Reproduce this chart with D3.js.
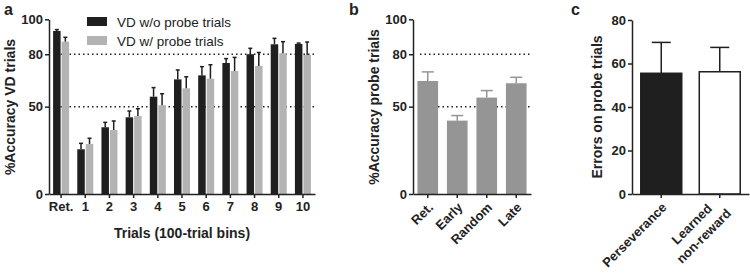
<!DOCTYPE html>
<html>
<head>
<meta charset="utf-8">
<script src="https://cdn.jsdelivr.net/npm/d3@7"></script>
<style>
  body { margin: 0; background: #fff; }
  text { font-family: "Liberation Sans", Arial, sans-serif; fill: #222; }
</style>
</head>
<body>
<div id="chart"></div>
<script>
// panel a - accuracy on VD trials per 100-trial bin
const binLabels = ["Ret.", "1", "2", "3", "4", "5", "6", "7", "8", "9", "10"];
const vdWithout = [93.3, 25.6, 38.2, 43.9, 55.7, 65.6, 67.9, 75.0, 80.0, 85.7, 85.9];
const vdWithoutErr = [0.8, 3.4, 2.8, 3.6, 5.2, 5.4, 5.0, 2.5, 3.4, 3.4, 0.5];
const vdWith = [87.2, 28.6, 36.6, 44.6, 50.8, 60.5, 66.0, 70.4, 73.3, 80.5, 79.6];
const vdWithErr = [2.5, 3.3, 5.2, 4.2, 6.6, 6.6, 8.0, 7.8, 7.7, 6.7, 7.4];
const legendLabels = ["VD w/o probe trials", "VD w/ probe trials"];

// panel b - accuracy on probe trials
const probeCats = ["Ret.", "Early", "Random", "Late"];
const probeAcc = [64.7, 42.0, 55.2, 63.4];
const probeErr = [5.2, 2.9, 4.0, 3.4];

// panel c - errors on probe trials
const errorCats = ["Perseverance", "Learned\nnon-reward"];
const errorVals = [55.5, 56.2];
const errorErr = [14.2, 11.2];

const accTicks = [0, 50, 80, 100];
const refLines = [50, 80];
const errTicks = [0, 20, 40, 60, 80];

const width = 750, height = 276;
const black = "#1f1f1f", lightGray = "#b3b3b3", midGray = "#959595";

const svg = d3.select("#chart")
  .append("svg")
  .attr("width", width)
  .attr("height", height);

const yTop = 19.3, yBottom = 194;

// style an axis group like the prism output
function styleAxis(g) {
  g.select(".domain").attr("stroke", "#222").attr("stroke-width", 1.5);
  g.selectAll(".tick line").attr("stroke", "#222").attr("stroke-width", 1.5);
  g.selectAll(".tick text")
    .attr("font-family", "Liberation Sans, Arial, sans-serif")
    .attr("font-size", 13)
    .attr("font-weight", "bold")
    .attr("fill", "#222");
}

function yTitle(x, y, label) {
  svg.append("text")
    .attr("transform", `translate(${x},${y}) rotate(-90)`)
    .attr("text-anchor", "middle")
    .attr("font-size", 14)
    .attr("font-weight", "bold")
    .text(label);
}

function panelLetter(x, y, letter) {
  svg.append("text")
    .attr("x", x).attr("y", y)
    .attr("font-size", 16)
    .attr("font-weight", "bold")
    .text(letter);
}

function dotted(x0, x1, yy) {
  svg.append("line")
    .attr("x1", x0).attr("x2", x1)
    .attr("y1", yy).attr("y2", yy)
    .attr("stroke", "#222")
    .attr("stroke-width", 1.5)
    .attr("stroke-dasharray", "1.5,3");
}

function errBar(cx, top, ext, cap, color) {
  const g = svg.append("g").attr("stroke", color).attr("stroke-width", 1.5);
  g.append("line").attr("x1", cx).attr("x2", cx).attr("y1", top).attr("y2", ext);
  g.append("line").attr("x1", cx - cap / 2).attr("x2", cx + cap / 2).attr("y1", ext).attr("y2", ext);
}

// rotated (-45deg) multi-line category labels, lines centred on each other
function rotatedLabels(x, labels, yPos) {
  labels.forEach((lab, i) => {
    const lines = lab.split("\n");
    const g = svg.append("g")
      .attr("transform", `translate(${x(lab) + x.bandwidth() / 2 + 3},${yPos}) rotate(-45)`);
    const texts = lines.map((ln, j) => g.append("text")
      .attr("font-size", 13)
      .attr("font-weight", "bold")
      .attr("dy", "0.35em")
      .attr("y", (j - (lines.length - 1) / 2) * 17)
      .text(ln));
    const w = d3.max(texts, t => t.node().getComputedTextLength());
    texts.forEach(t => t.attr("text-anchor", "middle").attr("x", -w / 2));
  });
}

/* ---------- panel a ---------- */
{
  const x = d3.scaleBand().domain(binLabels).range([49, 315]);
  const y = d3.scaleLinear().domain([0, 100]).range([yBottom, yTop]);
  const bw = 7.5;

  refLines.forEach(v => dotted(56, 315, y(v)));

  binLabels.forEach((b, i) => {
    const c = x(b) + x.bandwidth() / 2;
    svg.append("rect")
      .attr("x", c - bw - 0.5).attr("width", bw)
      .attr("y", y(vdWithout[i])).attr("height", y(0) - y(vdWithout[i]))
      .attr("fill", black);
    svg.append("rect")
      .attr("x", c + 0.5).attr("width", bw)
      .attr("y", y(vdWith[i])).attr("height", y(0) - y(vdWith[i]))
      .attr("fill", lightGray);
    errBar(c - bw / 2 - 0.5, y(vdWithout[i]), y(vdWithout[i] + vdWithoutErr[i]), 4, black);
    errBar(c + bw / 2 + 0.5, y(vdWith[i]), y(vdWith[i] + vdWithErr[i]), 4, black);
  });

  svg.append("g")
    .attr("transform", `translate(49,0)`)
    .call(d3.axisLeft(y).tickValues(accTicks).tickSize(4).tickPadding(2).tickSizeOuter(0))
    .call(styleAxis);

  svg.append("g")
    .attr("transform", `translate(0,${yBottom})`)
    .call(d3.axisBottom(x).tickSize(4).tickPadding(4).tickSizeOuter(0))
    .call(styleAxis);

  svg.append("text")
    .attr("x", 182).attr("y", 238)
    .attr("text-anchor", "middle")
    .attr("font-size", 14)
    .attr("font-weight", "bold")
    .text("Trials (100-trial bins)");

  yTitle(15, 107, "%Accuracy VD trials");
  panelLetter(4, 15, "a");

  // legend
  const leg = svg.append("g");
  [black, lightGray].forEach((col, i) => {
    leg.append("rect")
      .attr("x", 87).attr("y", 17 + i * 19)
      .attr("width", 20).attr("height", 9)
      .attr("fill", col);
    leg.append("text")
      .attr("x", 117).attr("y", 26.5 + i * 19)
      .attr("font-size", 13.5)
      .text(legendLabels[i]);
  });
}

/* ---------- panel b ---------- */
{
  const x = d3.scaleBand().domain(probeCats).range([413, 531]).paddingInner(0.3).paddingOuter(0.15);
  const y = d3.scaleLinear().domain([0, 100]).range([yBottom, yTop]);

  refLines.forEach(v => dotted(420, 531, y(v)));

  probeCats.forEach((c, i) => {
    svg.append("rect")
      .attr("x", x(c)).attr("width", x.bandwidth())
      .attr("y", y(probeAcc[i])).attr("height", y(0) - y(probeAcc[i]))
      .attr("fill", midGray);
    errBar(x(c) + x.bandwidth() / 2, y(probeAcc[i]), y(probeAcc[i] + probeErr[i]), 12, midGray);
  });

  svg.append("g")
    .attr("transform", `translate(413,0)`)
    .call(d3.axisLeft(y).tickValues(accTicks).tickSize(4).tickPadding(2).tickSizeOuter(0))
    .call(styleAxis);

  svg.append("g")
    .attr("transform", `translate(0,${yBottom})`)
    .call(d3.axisBottom(x).tickSize(4).tickSizeOuter(0).tickFormat(""))
    .call(styleAxis);

  rotatedLabels(x, probeCats, 205);
  yTitle(379, 107, "%Accuracy probe trials");
  panelLetter(349, 15, "b");
}

/* ---------- panel c ---------- */
{
  const x = d3.scaleBand().domain(errorCats).range([632, 749]).paddingInner(0.3).paddingOuter(0.15);
  const y = d3.scaleLinear().domain([0, 80]).range([yBottom, 20]);
  const fills = [black, "#fff"];

  errorCats.forEach((c, i) => {
    errBar(x(c) + x.bandwidth() / 2, y(errorVals[i]), y(errorVals[i] + errorErr[i]), 19, black);
    svg.append("rect")
      .attr("x", x(c)).attr("width", x.bandwidth())
      .attr("y", y(errorVals[i])).attr("height", y(0) - y(errorVals[i]))
      .attr("fill", fills[i])
      .attr("stroke", black)
      .attr("stroke-width", 1.5);
  });

  svg.append("g")
    .attr("transform", `translate(632,0)`)
    .call(d3.axisLeft(y).tickValues(errTicks).tickSize(4).tickPadding(2).tickSizeOuter(0))
    .call(styleAxis);

  svg.append("g")
    .attr("transform", `translate(0,${yBottom})`)
    .call(d3.axisBottom(x).tickSize(4).tickSizeOuter(0).tickFormat(""))
    .call(styleAxis);

  rotatedLabels(x, errorCats, 205);
  yTitle(602, 107, "Errors on probe trials");
  panelLetter(571, 15, "c");
}
</script>
</body>
</html>
